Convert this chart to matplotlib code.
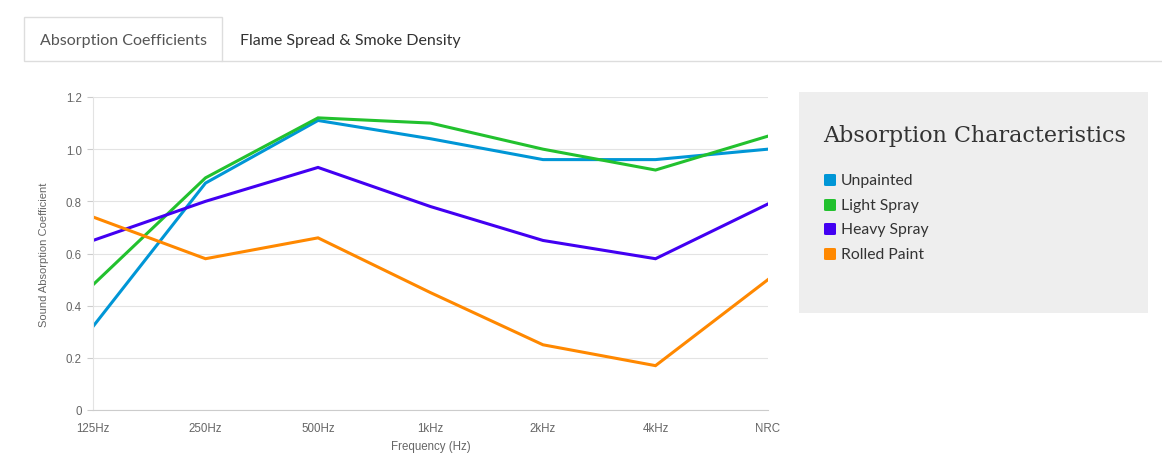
import matplotlib
matplotlib.use('Agg')
from matplotlib import pyplot as plt
from matplotlib.patches import Rectangle, FancyBboxPatch
from matplotlib.lines import Line2D

# data
freqs = ['125Hz', '250Hz', '500Hz', '1kHz', '2kHz', '4kHz', 'NRC']
unpainted = [0.32, 0.87, 1.11, 1.04, 0.96, 0.96, 1.00]
light_spray = [0.48, 0.89, 1.12, 1.10, 1.00, 0.92, 1.05]
heavy_spray = [0.65, 0.80, 0.93, 0.78, 0.65, 0.58, 0.79]
rolled_paint = [0.74, 0.58, 0.66, 0.45, 0.25, 0.17, 0.50]

series_names = ['Unpainted', 'Light Spray', 'Heavy Spray', 'Rolled Paint']
series_colors = ['#0096d6', '#22c12e', '#4200f2', '#ff8800']

W, H = 1162, 456
fig = plt.figure(figsize=(W / 100, H / 100), dpi=100)


def fx(px):
    return px / W


def fy(py):
    return 1 - py / H


# tabs
fig.add_artist(Rectangle((fx(24), fy(62)), fx(222) - fx(24), fy(18) - fy(62),
                         transform=fig.transFigure, facecolor='white',
                         edgecolor='#dddddd', lw=1))
fig.add_artist(Line2D([fx(222), 1.0], [fy(62), fy(62)], transform=fig.transFigure,
                      color='#dddddd', lw=1))
fig.text(fx(40), fy(41), 'Absorption Coefficients', fontsize=11.5, family='Lato',
         color='#555555', va='center', ha='left')
fig.text(fx(240), fy(41), 'Flame Spread & Smoke Density', fontsize=11.5, family='Lato',
         color='#333333', va='center', ha='left')

# chart
ax = fig.add_axes([fx(93), fy(411), fx(768) - fx(93), fy(98) - fy(411)])
all_series = [unpainted, light_spray, heavy_spray, rolled_paint]
for vals, name, col in zip(all_series, series_names, series_colors):
    ax.plot(range(len(freqs)), vals, color=col, lw=2.2, label=name,
            solid_joinstyle='miter')

ax.set_xlim(0, len(freqs) - 1)
ax.set_ylim(0, 1.2)
ax.set_yticks([0, 0.2, 0.4, 0.6, 0.8, 1.0, 1.2])
ax.set_yticklabels(['0', '0.2', '0.4', '0.6', '0.8', '1.0', '1.2'])
ax.set_xticks(range(len(freqs)))
ax.set_xticklabels(freqs)
ax.grid(axis='y', color='#e3e3e3', lw=0.8)
ax.set_axisbelow(True)
for s in ['top', 'right']:
    ax.spines[s].set_visible(False)
ax.spines['left'].set_color('#e3e3e3')
ax.spines['bottom'].set_color('#cccccc')
ax.tick_params(axis='y', length=4, color='#cccccc', labelsize=8.3,
               labelcolor='#666666', pad=4)
ax.tick_params(axis='x', length=0, labelsize=8.3, labelcolor='#666666', pad=9)
for lab in ax.get_xticklabels() + ax.get_yticklabels():
    lab.set_family('Liberation Sans')
ax.set_xlabel('Frequency (Hz)', fontsize=8.3, color='#666666',
              family='Liberation Sans', labelpad=4)
ax.set_ylabel('Sound Absorption Coefficient', fontsize=8, color='#666666',
              family='Liberation Sans', labelpad=12)

# legend panel
fig.add_artist(Rectangle((fx(799), fy(314)), fx(1148) - fx(799), fy(93) - fy(314),
                         transform=fig.transFigure, facecolor='#eeeeee',
                         edgecolor='none'))
fig.text(fx(823), fy(136), 'Absorption Characteristics', fontsize=16,
         family='DejaVu Serif', color='#333333', va='center', ha='left')
item_y = [181, 206, 230, 255]
for yy, name, col in zip(item_y, series_names, series_colors):
    fig.add_artist(FancyBboxPatch((fx(824), fy(yy + 6)), fx(12), 12 / H,
                                  boxstyle='round,pad=0,rounding_size=0.002',
                                  transform=fig.transFigure, facecolor=col,
                                  edgecolor='none'))
    fig.text(fx(841), fy(yy), name, fontsize=11.3, family='Lato',
             color='#333333', va='center', ha='left')

fig.savefig('out.png', dpi=100)
